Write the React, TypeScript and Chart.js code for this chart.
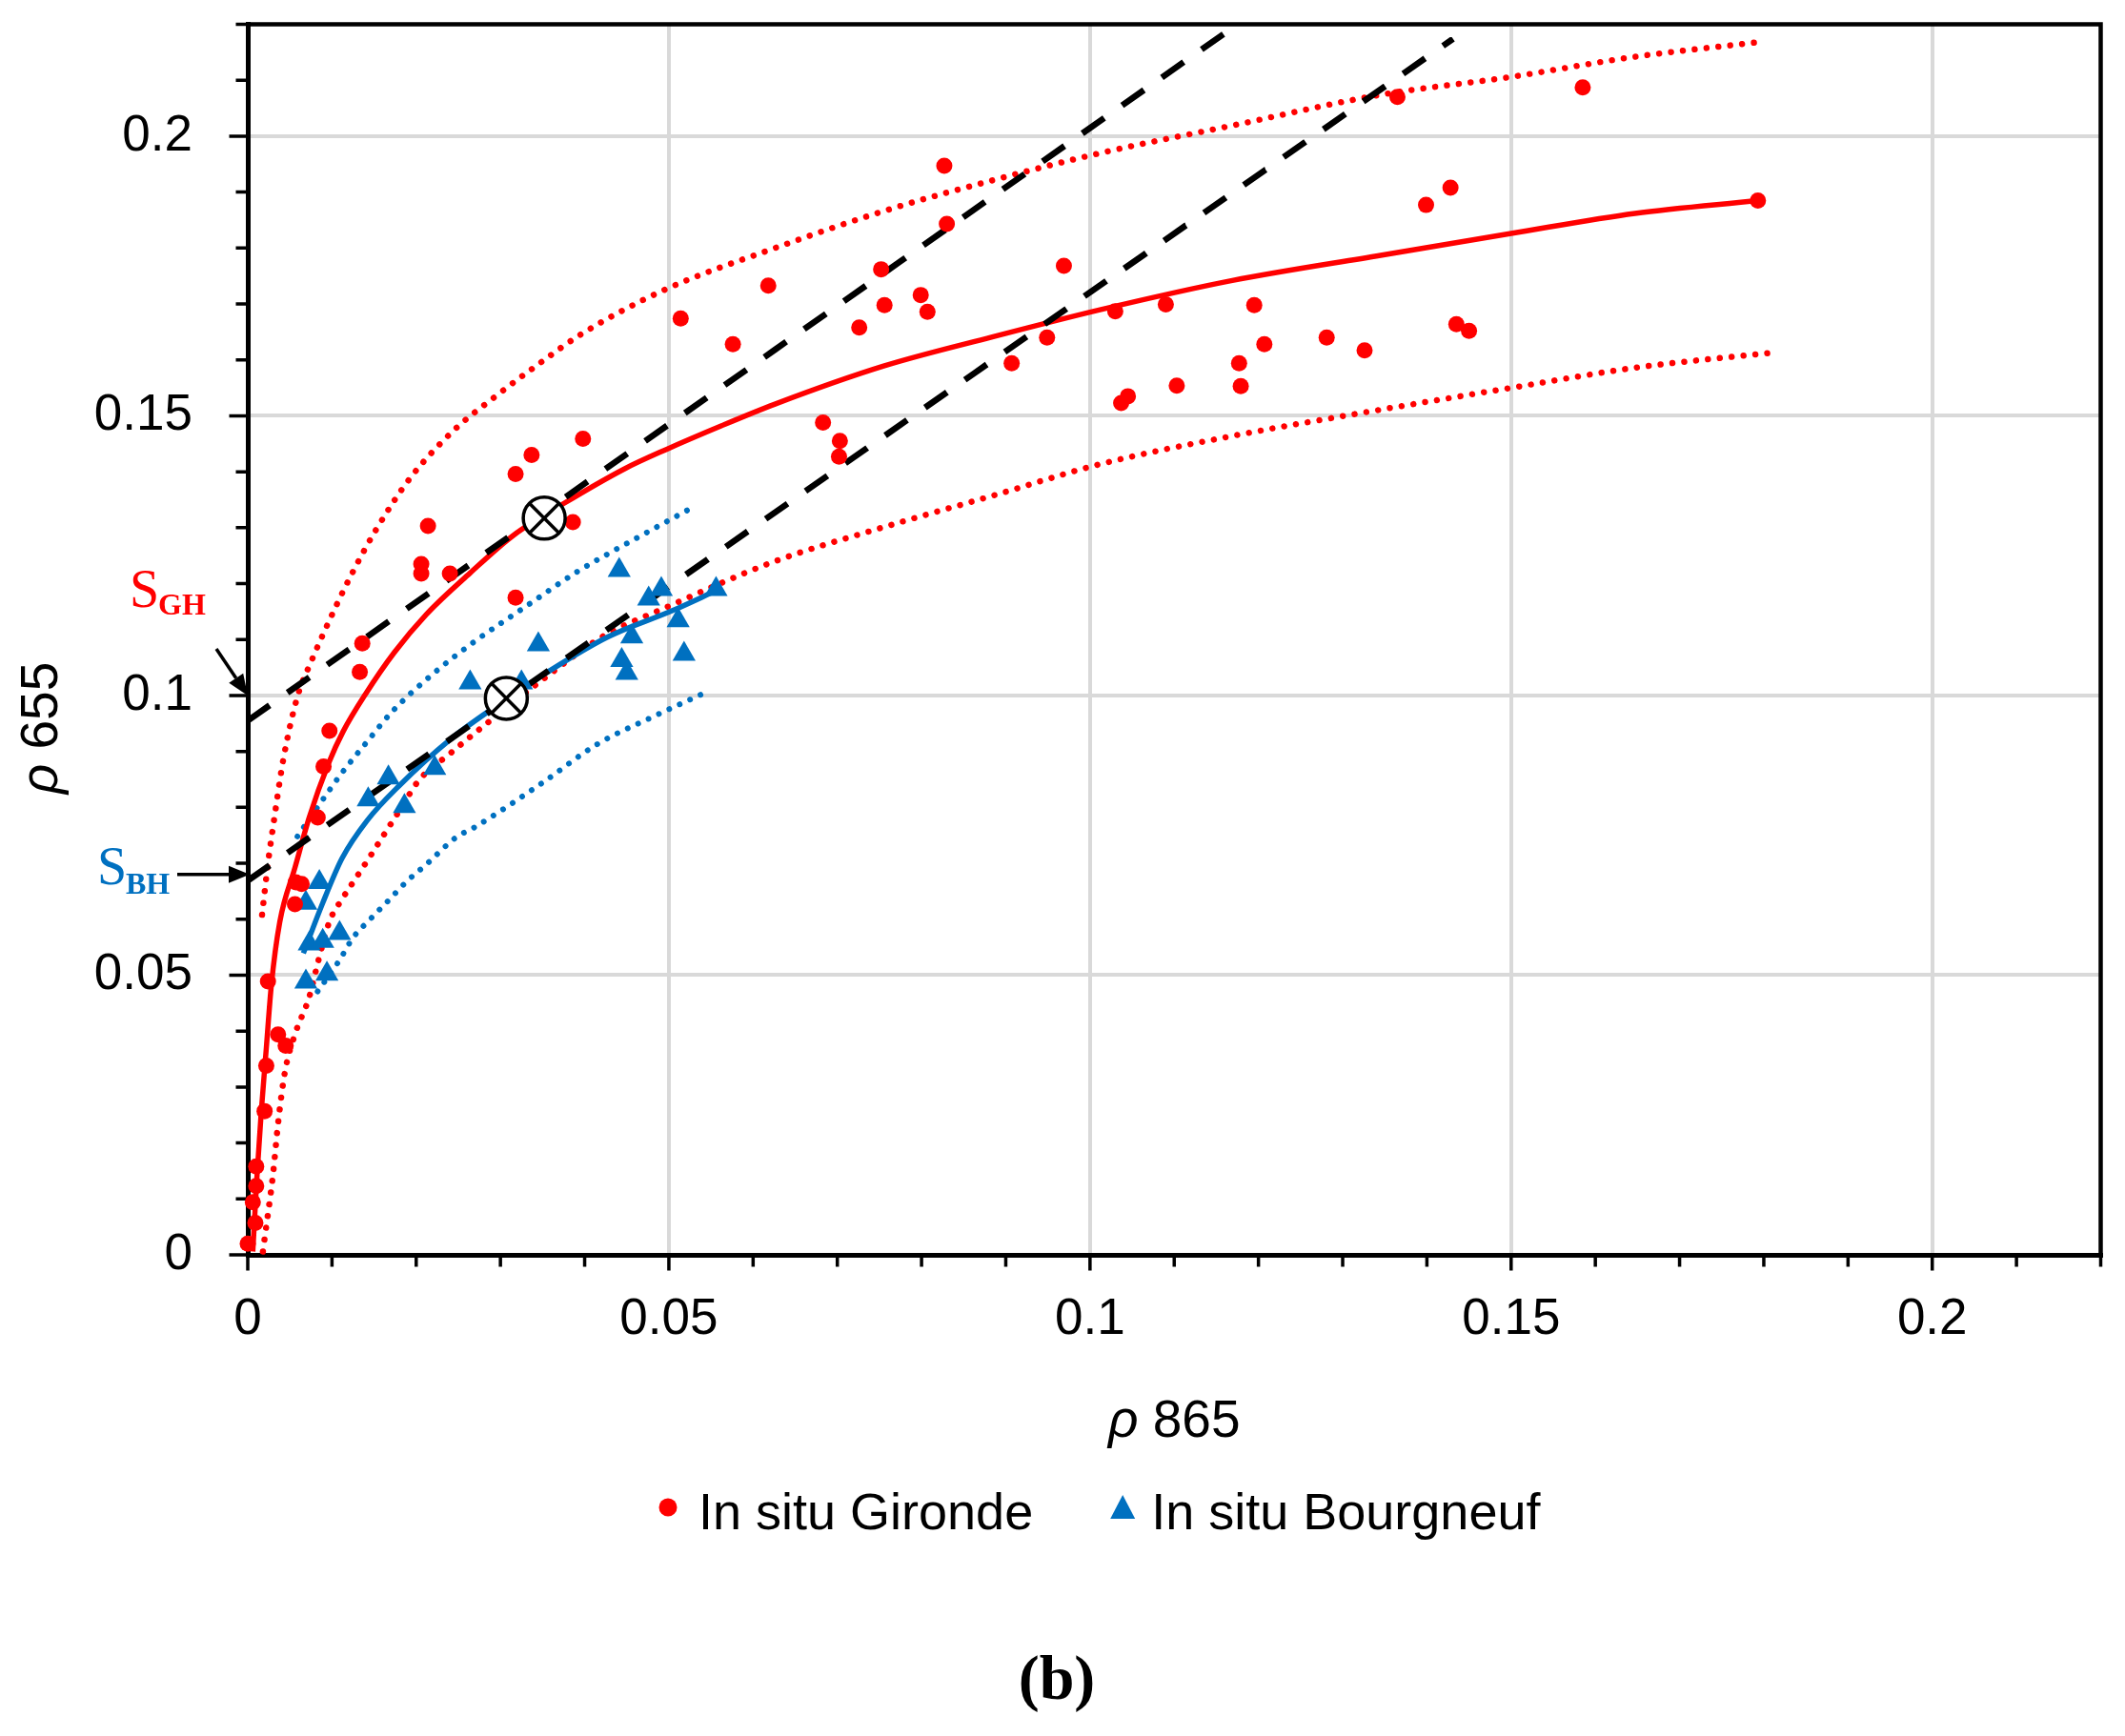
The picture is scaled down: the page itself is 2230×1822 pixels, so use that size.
import { useEffect, useRef } from "react";
import { Chart, registerables } from "chart.js";

Chart.register(...registerables);

// rho865 / rho655 pairs
const gironde: [number, number][] = [
  [0.0, 0.002], [0.0009, 0.0057], [0.0006, 0.0094], [0.001, 0.0123], [0.001, 0.0158],
  [0.002, 0.0257], [0.0022, 0.0338], [0.0045, 0.0374], [0.0036, 0.0394], [0.0024, 0.0489],
  [0.0057, 0.0666], [0.0064, 0.0663], [0.0056, 0.0627], [0.0083, 0.0782], [0.009, 0.0873],
  [0.0097, 0.0937], [0.0133, 0.1042], [0.0136, 0.1093], [0.0206, 0.1235], [0.0206, 0.1218],
  [0.024, 0.1218], [0.0214, 0.1303], [0.0318, 0.1175], [0.0318, 0.1396], [0.0337, 0.143],
  [0.0398, 0.1459], [0.0386, 0.131],
  [0.0827, 0.1947], [0.083, 0.1843], [0.0752, 0.1762], [0.0618, 0.1733], [0.0514, 0.1674],
  [0.0799, 0.1716], [0.0756, 0.1698], [0.0807, 0.1686], [0.0726, 0.1658], [0.0576, 0.1628],
  [0.0969, 0.1768], [0.0949, 0.164], [0.0907, 0.1594], [0.103, 0.1687], [0.109, 0.1699],
  [0.1103, 0.1554], [0.1045, 0.1535], [0.1037, 0.1523], [0.0683, 0.1488], [0.0703, 0.1455],
  [0.0702, 0.1427],
  [0.1365, 0.207], [0.1585, 0.2087], [0.1428, 0.1908], [0.1399, 0.1877], [0.1793, 0.1885],
  [0.1195, 0.1698], [0.1207, 0.1628], [0.1281, 0.164], [0.1326, 0.1617], [0.1435, 0.1664],
  [0.145, 0.1652], [0.1177, 0.1594], [0.1179, 0.1553],
];

const bourgneuf: [number, number][] = [
  [0.0085, 0.0666], [0.0069, 0.0629], [0.0073, 0.0556], [0.0089, 0.0561], [0.0109, 0.0575],
  [0.0069, 0.0488], [0.0094, 0.0502], [0.0143, 0.0814], [0.0186, 0.0802], [0.0167, 0.0853],
  [0.0222, 0.087], [0.0441, 0.1224], [0.0491, 0.119], [0.0476, 0.1173], [0.0556, 0.119],
  [0.0511, 0.1134], [0.0456, 0.1105], [0.0345, 0.1091], [0.0518, 0.1074], [0.0444, 0.1063],
  [0.045, 0.104], [0.0264, 0.1023], [0.0325, 0.1023],
];

// fitted curves and their bounds
const girondeFit: [number, number][] = [
  [0.0006, 0.0006], [0.0011, 0.0142], [0.0016, 0.0255], [0.0022, 0.0369], [0.0028, 0.0482],
  [0.0038, 0.0595], [0.0056, 0.0692], [0.0073, 0.0782], [0.0096, 0.0879], [0.0113, 0.0935],
  [0.014, 0.1003], [0.0174, 0.1077], [0.0212, 0.1145], [0.0264, 0.1219], [0.0316, 0.1287],
  [0.0376, 0.1344], [0.0447, 0.1405], [0.0497, 0.144], [0.0562, 0.1482], [0.0626, 0.1521],
  [0.0755, 0.1589], [0.0884, 0.1641], [0.1013, 0.169], [0.1169, 0.1742], [0.1345, 0.1787],
  [0.15, 0.1826], [0.1647, 0.1862], [0.1793, 0.1885],
];

const girondeUpper: [number, number][] = [
  [0.0017, 0.0608], [0.0024, 0.07], [0.0031, 0.0775], [0.0042, 0.0884], [0.0059, 0.0998],
  [0.0076, 0.1063], [0.0095, 0.1128], [0.0121, 0.121], [0.0151, 0.1293], [0.0193, 0.1389],
  [0.0246, 0.1476], [0.029, 0.153], [0.0343, 0.159], [0.0397, 0.1647], [0.0496, 0.1726],
  [0.0626, 0.18], [0.0755, 0.1866], [0.0884, 0.1921], [0.1013, 0.197], [0.1169, 0.2019],
  [0.1345, 0.2074], [0.15, 0.2106], [0.1647, 0.2142], [0.1793, 0.2168],
];

const girondeLower: [number, number][] = [
  [0.0018, 0.0006], [0.002, 0.0029], [0.003, 0.0144], [0.0036, 0.0235], [0.0044, 0.0326],
  [0.0056, 0.0394], [0.0073, 0.0461], [0.0084, 0.0527], [0.0097, 0.0596], [0.0112, 0.0636],
  [0.0129, 0.0675], [0.0146, 0.0714], [0.0162, 0.0752], [0.018, 0.0794], [0.0203, 0.0848],
  [0.024, 0.0896], [0.0287, 0.0954], [0.0348, 0.1026], [0.0421, 0.1105], [0.0496, 0.1157],
  [0.0626, 0.124], [0.0755, 0.1301], [0.0884, 0.1357], [0.1013, 0.1414], [0.1169, 0.1464],
  [0.1345, 0.1511], [0.15, 0.155], [0.1647, 0.1586], [0.181, 0.1613],
];

const bourgneufFit: [number, number][] = [
  [0.0066, 0.0539], [0.0089, 0.0629], [0.0112, 0.0709], [0.0142, 0.0777], [0.018, 0.0839],
  [0.024, 0.0921], [0.0289, 0.0975], [0.0354, 0.104], [0.0428, 0.1105], [0.0503, 0.1151],
  [0.0557, 0.1188],
];

const bourgneufUpper: [number, number][] = [
  [0.0059, 0.0748], [0.0068, 0.0768], [0.0085, 0.0805], [0.0112, 0.0862], [0.0142, 0.0918],
  [0.0172, 0.0972], [0.0217, 0.1035], [0.0267, 0.1094], [0.0329, 0.1158], [0.0392, 0.1222],
  [0.046, 0.128], [0.0529, 0.1337],
];

const bourgneufLower: [number, number][] = [
  [0.0083, 0.0471], [0.0109, 0.0527], [0.0125, 0.0567], [0.0146, 0.0601], [0.0168, 0.0635],
  [0.0189, 0.0668], [0.0212, 0.0698], [0.0247, 0.0746], [0.027, 0.0765], [0.0348, 0.0842],
  [0.0415, 0.0913], [0.0484, 0.0964], [0.054, 0.1003],
];

// hydrosol lines (dashed) and the two intersection points
const lineGH: [number, number][] = [[0, 0.0955], [0.1175, 0.22]];
const lineBH: [number, number][] = [[0, 0.0669], [0.1431, 0.2174]];
const crossings: [number, number][] = [[0.0352, 0.1317], [0.0307, 0.0995]];

// where the S_GH / S_BH arrows point on the y axis
const sghValue = 0.1;
const sbhValue = 0.068;

const legendLabels = ["In situ Gironde", "In situ Bourgneuf"];

const RED = "#FF0000";
const BLUE = "#0070C0";
const SANS = "'Liberation Sans', Arial, Helvetica, sans-serif";
const SERIF = "'Liberation Serif', 'Times New Roman', serif";

const toXY = (pts: [number, number][]) => pts.map(([x, y]) => ({ x, y }));
const isMajor = (v: number) => Math.round(v * 100) % 5 === 0;
const tickLabel = (v: number) => (isMajor(v) ? String(Math.round(v * 100) / 100) : "");

function drawArrow(ctx: CanvasRenderingContext2D, x1: number, y1: number, x2: number, y2: number) {
  const head = 22;
  const half = 9;
  const ang = Math.atan2(y2 - y1, x2 - x1);
  const bx = x2 - head * Math.cos(ang);
  const by = y2 - head * Math.sin(ang);
  ctx.beginPath();
  ctx.moveTo(x1, y1);
  ctx.lineTo(bx, by);
  ctx.stroke();
  ctx.beginPath();
  ctx.moveTo(x2, y2);
  ctx.lineTo(bx - half * Math.sin(ang), by + half * Math.cos(ang));
  ctx.lineTo(bx + half * Math.sin(ang), by - half * Math.cos(ang));
  ctx.closePath();
  ctx.fill();
}

// draws text pieces with different fonts one after another, centred on x
function drawRuns(ctx: CanvasRenderingContext2D, runs: { text: string; font: string }[], x: number, y: number) {
  const widths = runs.map((r) => {
    ctx.font = r.font;
    return ctx.measureText(r.text).width;
  });
  let cx = x - widths.reduce((a, b) => a + b, 0) / 2;
  ctx.textAlign = "left";
  ctx.textBaseline = "alphabetic";
  runs.forEach((r, i) => {
    ctx.font = r.font;
    ctx.fillText(r.text, cx, y);
    cx += widths[i];
  });
}

const frameAndTicks = {
  id: "frameAndTicks",
  beforeDatasetsDraw(chart: Chart) {
    const { ctx, chartArea: a, scales } = chart;
    ctx.save();
    ctx.strokeStyle = "#000";
    ctx.lineWidth = 4.5;
    ctx.beginPath();
    ctx.moveTo(a.left, a.top);
    ctx.lineTo(a.right, a.top);
    ctx.lineTo(a.right, a.bottom);
    ctx.stroke();

    ctx.lineWidth = 3.5;
    ctx.beginPath();
    scales.y.ticks.forEach((t) => {
      const py = scales.y.getPixelForValue(t.value);
      const len = isMajor(t.value) ? 17 : 10;
      ctx.moveTo(a.left - 2.5 - len, py);
      ctx.lineTo(a.left, py);
    });
    scales.x.ticks.forEach((t) => {
      const px = scales.x.getPixelForValue(t.value);
      const len = isMajor(t.value) ? 14 : 10;
      ctx.moveTo(px, a.bottom);
      ctx.lineTo(px, a.bottom + 2.5 + len);
    });
    ctx.stroke();
    ctx.restore();
  },
};

const labels = {
  id: "labels",
  afterDraw(chart: Chart) {
    const { ctx, chartArea: a, scales } = chart;
    ctx.save();
    ctx.fillStyle = "#000";

    // axis titles
    drawRuns(ctx, [
      { text: "ρ", font: `italic 55px ${SANS}` },
      { text: " 865", font: `55px ${SANS}` },
    ], (a.left + a.right) / 2, 1508);
    ctx.save();
    ctx.translate(60, 764);
    ctx.rotate(-Math.PI / 2);
    drawRuns(ctx, [
      { text: "ρ", font: `italic 55px ${SANS}` },
      { text: " 655", font: `55px ${SANS}` },
    ], 0, 0);
    ctx.restore();

    // S_GH and S_BH markers on the y axis
    ctx.strokeStyle = "#000";
    ctx.lineWidth = 3.5;
    const ghY = scales.y.getPixelForValue(sghValue);
    drawArrow(ctx, a.left - 33, ghY - 49, a.left, ghY);
    const bhY = scales.y.getPixelForValue(sbhValue);
    drawArrow(ctx, a.left - 74, bhY, a.left + 2, bhY);

    ctx.textAlign = "left";
    ctx.textBaseline = "alphabetic";
    ctx.fillStyle = RED;
    ctx.font = `56px ${SERIF}`;
    ctx.fillText("S", a.left - 124, ghY - 93);
    ctx.font = `bold 32px ${SERIF}`;
    ctx.fillText("GH", a.left - 94, ghY - 85);
    ctx.fillStyle = BLUE;
    ctx.font = `56px ${SERIF}`;
    ctx.fillText("S", a.left - 158, bhY + 10);
    ctx.font = `bold 32px ${SERIF}`;
    ctx.fillText("BH", a.left - 128, bhY + 20);

    // legend
    const ly = 1605;
    let lx = 691;
    ctx.font = `54px ${SANS}`;
    ctx.fillStyle = RED;
    ctx.beginPath();
    ctx.arc(lx + 10, ly - 23, 9.5, 0, Math.PI * 2);
    ctx.fill();
    ctx.fillStyle = "#000";
    ctx.fillText(legendLabels[0], lx + 42, ly);
    lx += 42 + ctx.measureText(legendLabels[0]).width + 94;
    ctx.fillStyle = BLUE;
    ctx.beginPath();
    ctx.moveTo(lx, ly - 36);
    ctx.lineTo(lx + 13, ly - 11);
    ctx.lineTo(lx - 13, ly - 11);
    ctx.closePath();
    ctx.fill();
    ctx.fillStyle = "#000";
    ctx.fillText(legendLabels[1], lx + 30, ly);

    // panel caption
    ctx.textAlign = "center";
    ctx.font = `bold 66px ${SERIF}`;
    ctx.fillText("(b)", 1109, 1783);
    ctx.restore();
  },
};

const curve = (data: [number, number][], color: string, width: number, dash: number[], order: number) => ({
  type: "scatter" as const,
  data: toXY(data),
  showLine: true,
  borderColor: color,
  borderWidth: width,
  borderDash: dash,
  borderCapStyle: (dash.length && dash[0] < 1 ? "round" : "butt") as CanvasLineCap,
  pointRadius: 0,
  cubicInterpolationMode: "monotone" as const,
  fill: false,
  order,
});

export default function App() {
  const chartRef = useRef<HTMLCanvasElement>(null);
  const chartInstance = useRef<Chart | null>(null);

  useEffect(() => {
    document.body.style.margin = "0";
    if (!chartRef.current) return;
    if (chartInstance.current) chartInstance.current.destroy();

    const axis = (size: "width" | "height", value: number, padding: number) => ({
      type: "linear" as const,
      min: 0,
      max: 0.22,
      afterFit: (s: any) => {
        s[size] = value;
        // keep the plot box where the figure has it: no room for overhanging labels
        s.paddingTop = 0;
        s.paddingBottom = 0;
        s.paddingLeft = 0;
        s.paddingRight = 0;
      },
      ticks: {
        stepSize: 0.01,
        autoSkip: false,
        maxRotation: 0,
        padding,
        color: "#000",
        font: { size: 53, family: SANS },
        callback: (v: any) => tickLabel(Number(v)),
      },
      grid: {
        drawTicks: false,
        lineWidth: 4,
        color: (c: any) => (c.tick && isMajor(c.tick.value) && c.tick.value > 0.001 ? "#D9D9D9" : "rgba(0,0,0,0)"),
      },
      border: { display: true, color: "#000", width: 5 },
    });

    chartInstance.current = new Chart(chartRef.current, {
      type: "scatter",
      data: {
        datasets: [
          {
            data: toXY(crossings),
            pointStyle: "crossRot",
            pointRadius: 22,
            borderColor: "#000",
            borderWidth: 3.5,
            clip: false,
            order: 0,
          },
          {
            data: toXY(crossings),
            pointStyle: "circle",
            pointRadius: 22,
            backgroundColor: "#fff",
            borderColor: "#000",
            borderWidth: 3.5,
            clip: false,
            order: 1,
          },
          {
            label: legendLabels[0],
            data: toXY(gironde),
            pointStyle: "circle",
            pointRadius: 8.5,
            backgroundColor: RED,
            borderWidth: 0,
            clip: false,
            order: 2,
          },
          {
            label: legendLabels[1],
            data: toXY(bourgneuf),
            pointStyle: "triangle",
            pointRadius: 14,
            backgroundColor: BLUE,
            borderWidth: 0,
            clip: false,
            order: 3,
          },
          curve(lineGH, "#000", 6.5, [28, 23], 4),
          curve(lineBH, "#000", 6.5, [28, 23], 5),
          curve(bourgneufFit, BLUE, 5.5, [], 6),
          curve(girondeFit, RED, 5.5, [], 7),
          curve(bourgneufUpper, BLUE, 6, [0.01, 12], 8),
          curve(bourgneufLower, BLUE, 6, [0.01, 12], 9),
          curve(girondeUpper, RED, 6.5, [0.01, 12.5], 10),
          curve(girondeLower, RED, 6.5, [0.01, 12.5], 11),
        ] as any,
      },
      options: {
        animation: false,
        responsive: true,
        maintainAspectRatio: false,
        events: [],
        layout: { padding: { top: 22, right: 16, bottom: 0, left: 0 } },
        plugins: {
          legend: { display: false },
          tooltip: { enabled: false },
          title: { display: false },
        },
        scales: {
          x: axis("height", 505, 37),
          y: axis("width", 260, 58),
        },
      },
      plugins: [frameAndTicks, labels],
    });

    return () => {
      if (chartInstance.current) {
        chartInstance.current.destroy();
        chartInstance.current = null;
      }
    };
  }, []);

  return (
    <div style={{ position: "absolute", left: 0, top: 0, width: 2230, height: 1822, background: "#fff" }}>
      <canvas ref={chartRef} />
    </div>
  );
}
